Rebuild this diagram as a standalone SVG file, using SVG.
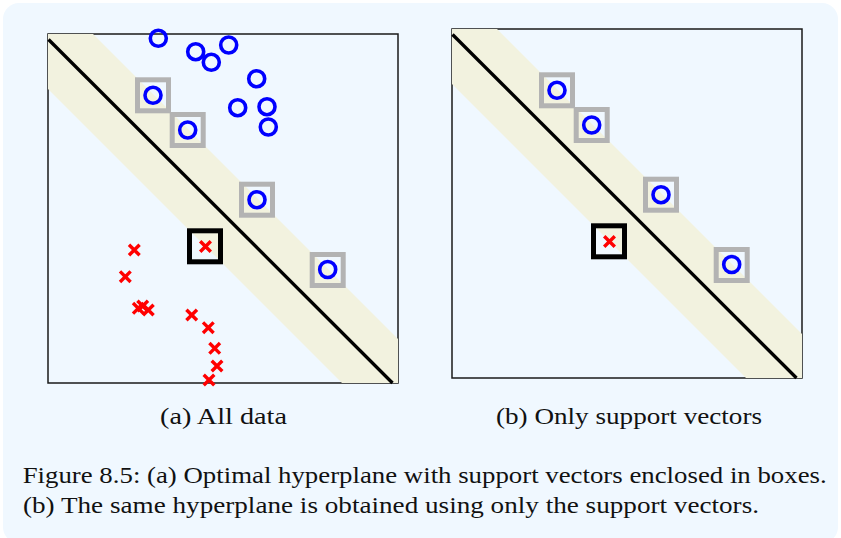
<svg xmlns="http://www.w3.org/2000/svg" xmlns:xlink="http://www.w3.org/1999/xlink" width="841" height="538" viewBox="0 0 841 538">
<style>
.frame{fill:none;stroke:#1a1a1a;stroke-width:1.5}
.band{fill:#f2f2df;stroke:none}
.hyper{stroke:#000;stroke-width:3.3;fill:none}
.pos{fill:none;stroke:#0000ff;stroke-width:3.6}
.neg{fill:none;stroke:#ff0000;stroke-width:3.4}
.svbox{fill:none;stroke:#b3b3b3;stroke-width:5}
.svboxneg{fill:none;stroke:#000;stroke-width:5}
.cap{font-family:"Liberation Serif","Times New Roman",serif;font-size:23px;fill:#111}
</style>
<defs>
<circle id="o" r="8" class="pos"/>
<path id="x" d="M-5.3,-5.3L5.3,5.3M-5.3,5.3L5.3,-5.3" class="neg"/>
<rect id="sb" x="-15.5" y="-15.5" width="31" height="31" class="svbox"/>
<rect id="nb" x="-15.5" y="-15.5" width="31" height="31" class="svboxneg"/>
</defs>
<rect x="3" y="3" width="835" height="540" rx="16" fill="#f0f8ff"/>

<g id="panel-a">
<rect class="frame" x="48" y="34" width="350" height="349"/>
<polygon class="band" points="48,34 93,34 398,339 398,383 342,383 48,89"/>
<g id="connectors-a"><line class="hyper" x1="48.5" y1="39.5" x2="392.5" y2="383"/></g>
<g id="a-o1"><use href="#o" x="158.3" y="38.3"/></g>
<g id="a-o2"><use href="#o" x="195.7" y="51.7"/></g>
<g id="a-o3"><use href="#o" x="211.3" y="62.3"/></g>
<g id="a-o4"><use href="#o" x="228.7" y="45"/></g>
<g id="a-o5"><use href="#o" x="256.7" y="78.7"/></g>
<g id="a-o6"><use href="#o" x="237.7" y="107.7"/></g>
<g id="a-o7"><use href="#o" x="267" y="106.7"/></g>
<g id="a-o8"><use href="#o" x="268.3" y="127"/></g>
<g id="a-sv1"><use href="#sb" x="153" y="95.3"/><use href="#o" x="153" y="95.3"/></g>
<g id="a-sv2"><use href="#sb" x="187.7" y="130"/><use href="#o" x="187.7" y="130"/></g>
<g id="a-sv3"><use href="#sb" x="257" y="199.7"/><use href="#o" x="257" y="199.7"/></g>
<g id="a-sv4"><use href="#sb" x="327.7" y="270"/><use href="#o" x="327.7" y="269.5"/></g>
<g id="a-sv5"><use href="#nb" x="205" y="246.3"/><use href="#x" x="205.5" y="246.5"/></g>
<g id="a-x1"><use href="#x" x="134.3" y="250"/></g>
<g id="a-x2"><use href="#x" x="125.3" y="276.7"/></g>
<g id="a-x3"><use href="#x" x="138.3" y="308.3"/></g>
<g id="a-x4"><use href="#x" x="142.7" y="306"/></g>
<g id="a-x5"><use href="#x" x="148.3" y="310"/></g>
<g id="a-x6"><use href="#x" x="191.7" y="315"/></g>
<g id="a-x7"><use href="#x" x="208.3" y="327.7"/></g>
<g id="a-x8"><use href="#x" x="214.7" y="348.3"/></g>
<g id="a-x9"><use href="#x" x="217" y="366"/></g>
<g id="a-x10"><use href="#x" x="209" y="380"/></g>
</g>

<g id="panel-b" transform="translate(404,-5)">
<rect class="frame" x="48" y="34" width="350" height="349"/>
<polygon class="band" points="48,34 93,34 398,339 398,383 342,383 48,89"/>
<g id="connectors-b"><line class="hyper" x1="48.5" y1="39.5" x2="392.5" y2="383"/></g>
<g id="b-sv1"><use href="#sb" x="153" y="95.3"/><use href="#o" x="153" y="95.3"/></g>
<g id="b-sv2"><use href="#sb" x="187.7" y="130"/><use href="#o" x="187.7" y="130"/></g>
<g id="b-sv3"><use href="#sb" x="257" y="199.7"/><use href="#o" x="257" y="199.7"/></g>
<g id="b-sv4"><use href="#sb" x="327.7" y="270"/><use href="#o" x="327.7" y="269.5"/></g>
<g id="b-sv5"><use href="#nb" x="205" y="246.3"/><use href="#x" x="205.5" y="246.5"/></g>
</g>

<g id="captions">
<text class="cap" x="160" y="424" textLength="127" lengthAdjust="spacingAndGlyphs">(a) All data</text>
<text class="cap" x="496" y="424" textLength="266" lengthAdjust="spacingAndGlyphs">(b) Only support vectors</text>
<text class="cap" x="22.7" y="483" textLength="804" lengthAdjust="spacingAndGlyphs">Figure 8.5: (a) Optimal hyperplane with support vectors enclosed in boxes.</text>
<text class="cap" x="23" y="513" textLength="736" lengthAdjust="spacingAndGlyphs">(b) The same hyperplane is obtained using only the support vectors.</text>
</g>
</svg>
